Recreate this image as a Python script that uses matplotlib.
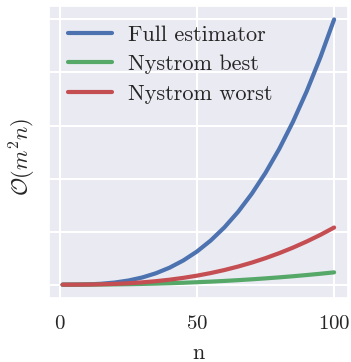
import matplotlib
matplotlib.use("Agg")
import matplotlib.pyplot as plt
import seaborn as sns

sns.set_theme(style="darkgrid")
plt.rcParams['font.family'] = ['cmr10', 'DejaVu Serif']
plt.rcParams['mathtext.fontset'] = 'cm'
plt.rcParams['axes.formatter.use_mathtext'] = True

n = [1, 5, 10, 15, 20, 25, 30, 35, 40, 45, 50, 55, 60, 65, 70, 75, 80, 85, 90, 95, 100]
full_estimator = [1, 125, 1000, 3375, 8000, 15625, 27000, 42875, 64000, 91125, 125000,
                  166375, 216000, 274625, 343000, 421875, 512000, 614125, 729000, 857375, 1000000]
nystrom_best = [1, 43, 215, 555, 1086, 1828, 2796, 4005, 5472, 7206, 9212,
                11503, 14090, 16983, 20190, 23714, 27570, 31760, 36300, 41180, 46416]
nystrom_worst = [1, 73, 464, 1368, 2947, 5344, 8690, 13104, 18715, 25620, 33932,
                 43740, 55170, 68300, 83210, 100030, 118830, 139670, 162680, 187850, 215443]
x_ticks = [0, 50, 100]
y_ticks = [0, 200000, 400000, 600000, 800000, 1000000]

fig = plt.figure(figsize=(3.51, 3.62), dpi=100)
ax = fig.add_axes([0.1396, 0.177, 0.851, 0.806])
ax.plot(n, full_estimator, color="#4C72B0", lw=3, label="Full estimator")
ax.plot(n, nystrom_best, color="#55A868", lw=3, label="Nystrom best")
ax.plot(n, nystrom_worst, color="#C44E52", lw=3, label="Nystrom worst")

ax.set_xticks(x_ticks)
ax.set_yticks(y_ticks)
ax.set_yticklabels([])
ax.tick_params(axis='x', labelsize=15, pad=6)
ax.grid(color="white", lw=1.5)
ax.set_xlabel("n", fontsize=16, labelpad=8)
ax.set_ylabel(r"$\mathcal{O}(m^2n)$", fontsize=16, labelpad=-1.5)
ax.yaxis.label.set_y(0.483)
leg = ax.legend(loc="upper left", fontsize=16, frameon=False, handlelength=2.0,
                handletextpad=0.7, labelspacing=0.45, borderaxespad=0.45)

fig.savefig("out.png", dpi=100)
